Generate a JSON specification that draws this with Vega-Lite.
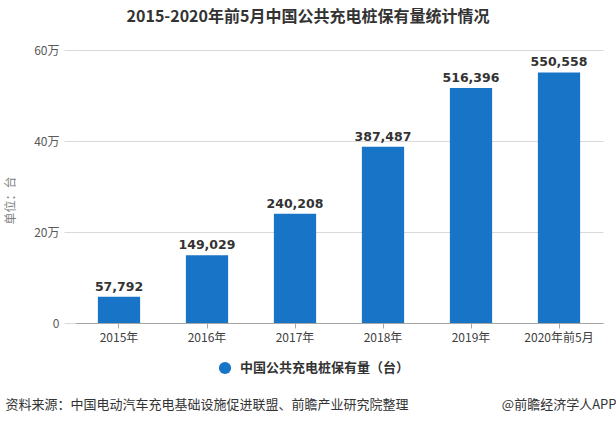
{
  "$schema": "https://vega.github.io/schema/vega-lite/v6.json",
  "autosize": "none",
  "width": 528,
  "height": 273,
  "padding": {"left": 75, "top": 50, "right": 13, "bottom": 101},
  "background": "white",
  "config": {
    "font": "Noto Sans CJK SC",
    "view": {"stroke": null}
  },
  "title": {
    "text": "2015-2020年前5月中国公共充电桩保有量统计情况",
    "font": "Noto Sans CJK SC",
    "fontSize": 16,
    "fontWeight": "bold",
    "color": "#333333",
    "anchor": "middle",
    "frame": "group",
    "dx": -31,
    "offset": 19
  },
  "data": {
    "values": [
      {"year": "2015年", "value": 57792, "series": "中国公共充电桩保有量（台）"},
      {"year": "2016年", "value": 149029, "series": "中国公共充电桩保有量（台）"},
      {"year": "2017年", "value": 240208, "series": "中国公共充电桩保有量（台）"},
      {"year": "2018年", "value": 387487, "series": "中国公共充电桩保有量（台）"},
      {"year": "2019年", "value": 516396, "series": "中国公共充电桩保有量（台）"},
      {"year": "2020年前5月", "value": 550558, "series": "中国公共充电桩保有量（台）"}
    ]
  },
  "encoding": {
    "x": {
      "field": "year",
      "type": "nominal",
      "sort": null,
      "scale": {"paddingInner": 0.52, "paddingOuter": 0.26},
      "axis": {
        "title": "资料来源：中国电动汽车充电基础设施促进联盟、前瞻产业研究院整理",
        "titleFont": "Noto Sans CJK SC",
        "titleFontSize": 13,
        "titleFontWeight": "normal",
        "titleColor": "#333333",
        "titleAnchor": "start",
        "titleAlign": "left",
        "titleBaseline": "middle",
        "titleX": -70,
        "titleY": 81,
        "labelAngle": 0,
        "labelFontSize": 12,
        "labelColor": "#404040",
        "labelPadding": 4,
        "domainColor": "#a6a6a6",
        "tickColor": "#a6a6a6",
        "tickSize": 5
      }
    },
    "y": {
      "field": "value",
      "type": "quantitative",
      "scale": {"domain": [0, 600000]},
      "axis": {
        "values": [0, 200000, 400000, 600000],
        "labelExpr": "datum.value == 0 ? '0' : (datum.value / 10000) + '万'",
        "labelFontSize": 12,
        "labelColor": "#595959",
        "labelPadding": 5,
        "domain": false,
        "tickSize": 11,
        "tickColor": "#d9d9d9",
        "gridColor": "#d9d9d9",
        "title": "单位：台",
        "titleFontSize": 12,
        "titleFontWeight": "normal",
        "titleColor": "#7f7f7f",
        "titleX": -58,
        "titleY": 150,
        "titleAnchor": "middle"
      }
    }
  },
  "layer": [
    {
      "mark": {"type": "bar", "color": "#1874c6"},
      "encoding": {
        "color": {
          "field": "series",
          "type": "nominal",
          "scale": {"range": ["#1874c6"]},
          "legend": {
            "title": null,
            "orient": "none",
            "legendX": 143,
            "legendY": 311,
            "symbolType": "circle",
            "symbolSize": 150,
            "labelFontSize": 13,
            "labelFontWeight": "bold",
            "labelColor": "#333333",
            "labelOffset": 8,
            "labelLimit": 0
          }
        }
      }
    },
    {
      "mark": {"type": "text", "dy": -10, "fontSize": 12.5, "fontWeight": "bold", "color": "#333333", "font": "DejaVu Sans"},
      "encoding": {
        "text": {"field": "value", "type": "quantitative", "format": ","},
        "y": {
          "field": "value",
          "type": "quantitative",
          "axis": {
            "orient": "right",
            "labels": false,
            "ticks": false,
            "domain": false,
            "grid": false,
            "title": "@前瞻经济学人APP",
            "titleAngle": 0,
            "titleFontSize": 13,
            "titleFontWeight": "normal",
            "titleColor": "#333333",
            "titleAlign": "right",
            "titleBaseline": "middle",
            "titleX": 13,
            "titleY": 354
          }
        }
      }
    }
  ],
  "resolve": {"axis": {"y": "independent"}}
}
